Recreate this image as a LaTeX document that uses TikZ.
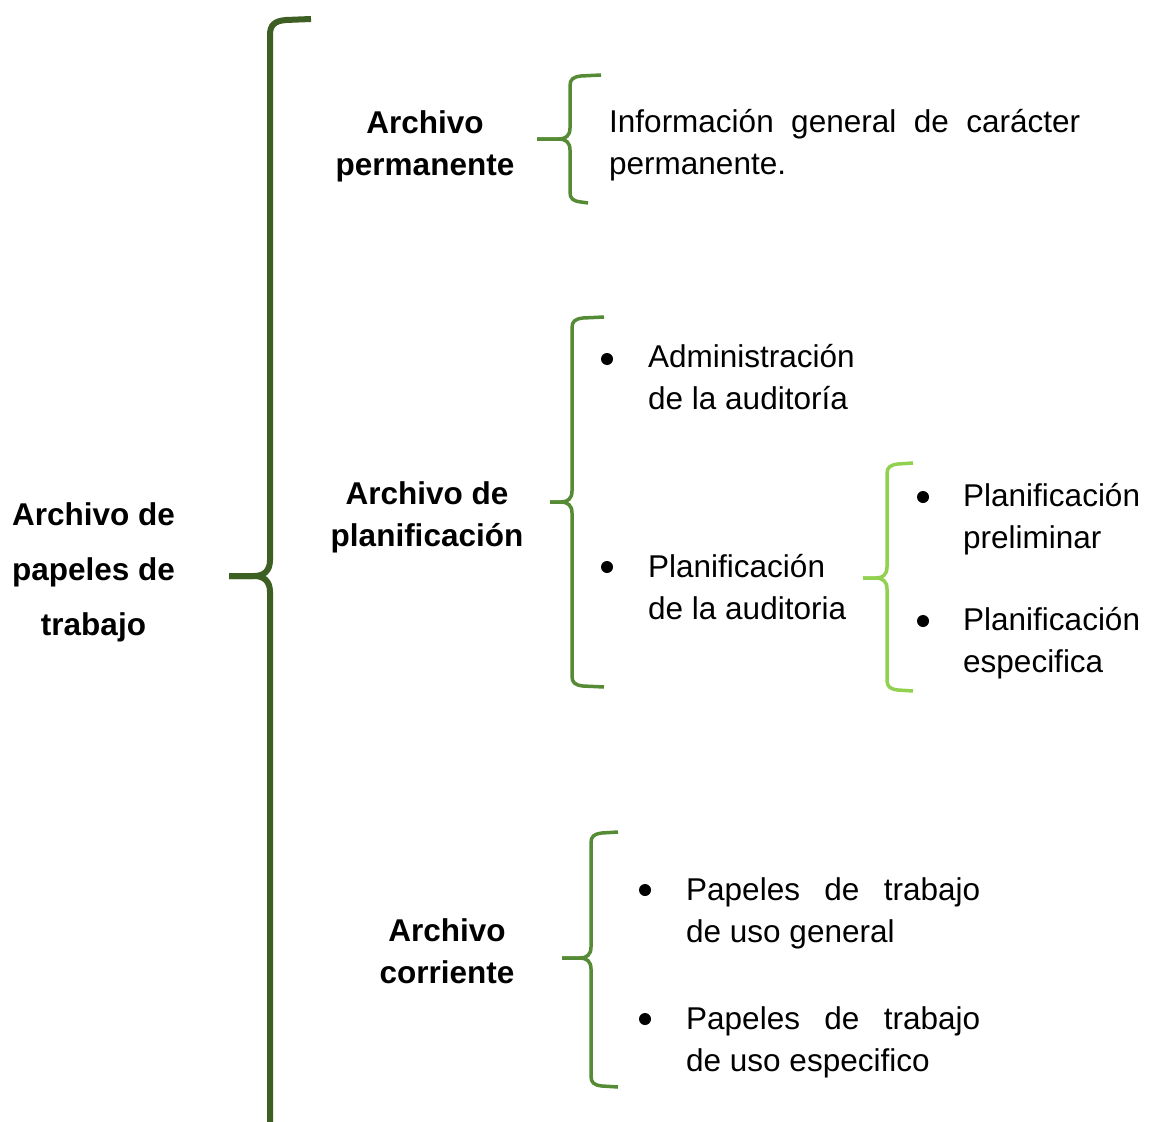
\documentclass[tikz,border=0pt]{standalone}
\usepackage{fontspec}
\setmainfont{Liberation Sans}
\definecolor{dkgreen}{HTML}{3D5F24}
\definecolor{midgreen}{HTML}{558B35}
\definecolor{ltgreen}{HTML}{92D050}
% #1 style, #2 vertical x, #3 top y, #4 top end x, #5 tip x, #6 tip y, #7 bottom y, #8 bottom end x, #9 radius
\newcommand\curlybrace[9]{%
  \draw[#1] (#4,#3) -- ({#2+#9},{#3+1}) .. controls ({#2+0.25*#9},{#3+2}) and (#2,{#3+0.4*#9}) .. (#2,{#3+#9})
    -- (#2,{#6-#9}) .. controls (#2,{#6-0.3*#9}) and ({#2-0.4*#9},#6) .. ({#2-#9},#6) -- (#5,#6);
  \draw[#1] (#5,#6) -- ({#2-#9},#6) .. controls ({#2-0.4*#9},#6) and (#2,{#6+0.3*#9}) .. (#2,{#6+#9})
    -- (#2,{#7-#9}) .. controls (#2,{#7-0.4*#9}) and ({#2+0.25*#9},{#7-2}) .. ({#2+#9},{#7-1}) -- (#8,#7);
}
\begin{document}
\begin{tikzpicture}[x=1pt,y=-1pt,
  txt/.style={inner sep=0pt, font=\fontsize{31.5}{42}\selectfont},
  head/.style={inner sep=0pt, font=\fontsize{31.5}{42}\selectfont\bfseries, align=center, anchor=base},
  item/.style={txt, align=left, anchor=base west},
  bul/.style={circle, fill=black, inner sep=0pt, minimum size=12pt},
  bigbrace/.style={draw=dkgreen, line width=6pt},
  midbrace/.style={draw=midgreen, line width=3.5pt},
  ltbrace/.style={draw=ltgreen, line width=3.5pt}]
\useasboundingbox (0,0) rectangle (1153,1121);

% braces
\curlybrace{bigbrace}{270}{19}{311}{229}{576}{1150}{311}{16}
\curlybrace{midbrace}{570}{75}{601}{537}{139}{203}{588}{11}
\curlybrace{midbrace}{572}{317}{604}{550}{502}{687}{604}{11}
\curlybrace{ltbrace}{887}{463}{913}{863}{578}{691}{913}{11}
\curlybrace{midbrace}{591}{832}{618}{562}{958}{1087}{618}{11}

% headings (anchor = baseline of the last line)
\node[head, font=\fontsize{31.5}{55}\selectfont\bfseries] (root) at (93.5,635) {Archivo de\\papeles de\\trabajo};
\node[head] (perm) at (425,175) {Archivo\\permanente};
\node[head] (plan) at (427,546) {Archivo de\\planificación};
\node[head] (corr) at (447,983) {Archivo\\corriente};

% contents
\node[item] (info) at (609,174) {\makebox[471pt][s]{Información general de carácter}\\permanente.};

\node[bul] (b1) at (607,359) {};
\node[item] (adm) at (648,409) {Administración\\de la auditoría};
\node[bul] (b2) at (607,567) {};
\node[item] (pla) at (648,619) {Planificación\\de la auditoria};

\node[bul] (b3) at (923,497) {};
\node[item] (pre) at (963,548) {Planificación\\preliminar};
\node[bul] (b4) at (923,621) {};
\node[item] (esp) at (963,672) {Planificación\\especifica};

\node[bul] (b5) at (645,890) {};
\node[item] (gen) at (686,942) {\makebox[294pt][s]{Papeles de trabajo}\\de uso general};
\node[bul] (b6) at (645,1019) {};
\node[item] (esp2) at (686,1071) {\makebox[294pt][s]{Papeles de trabajo}\\de uso especifico};
\end{tikzpicture}
\end{document}
